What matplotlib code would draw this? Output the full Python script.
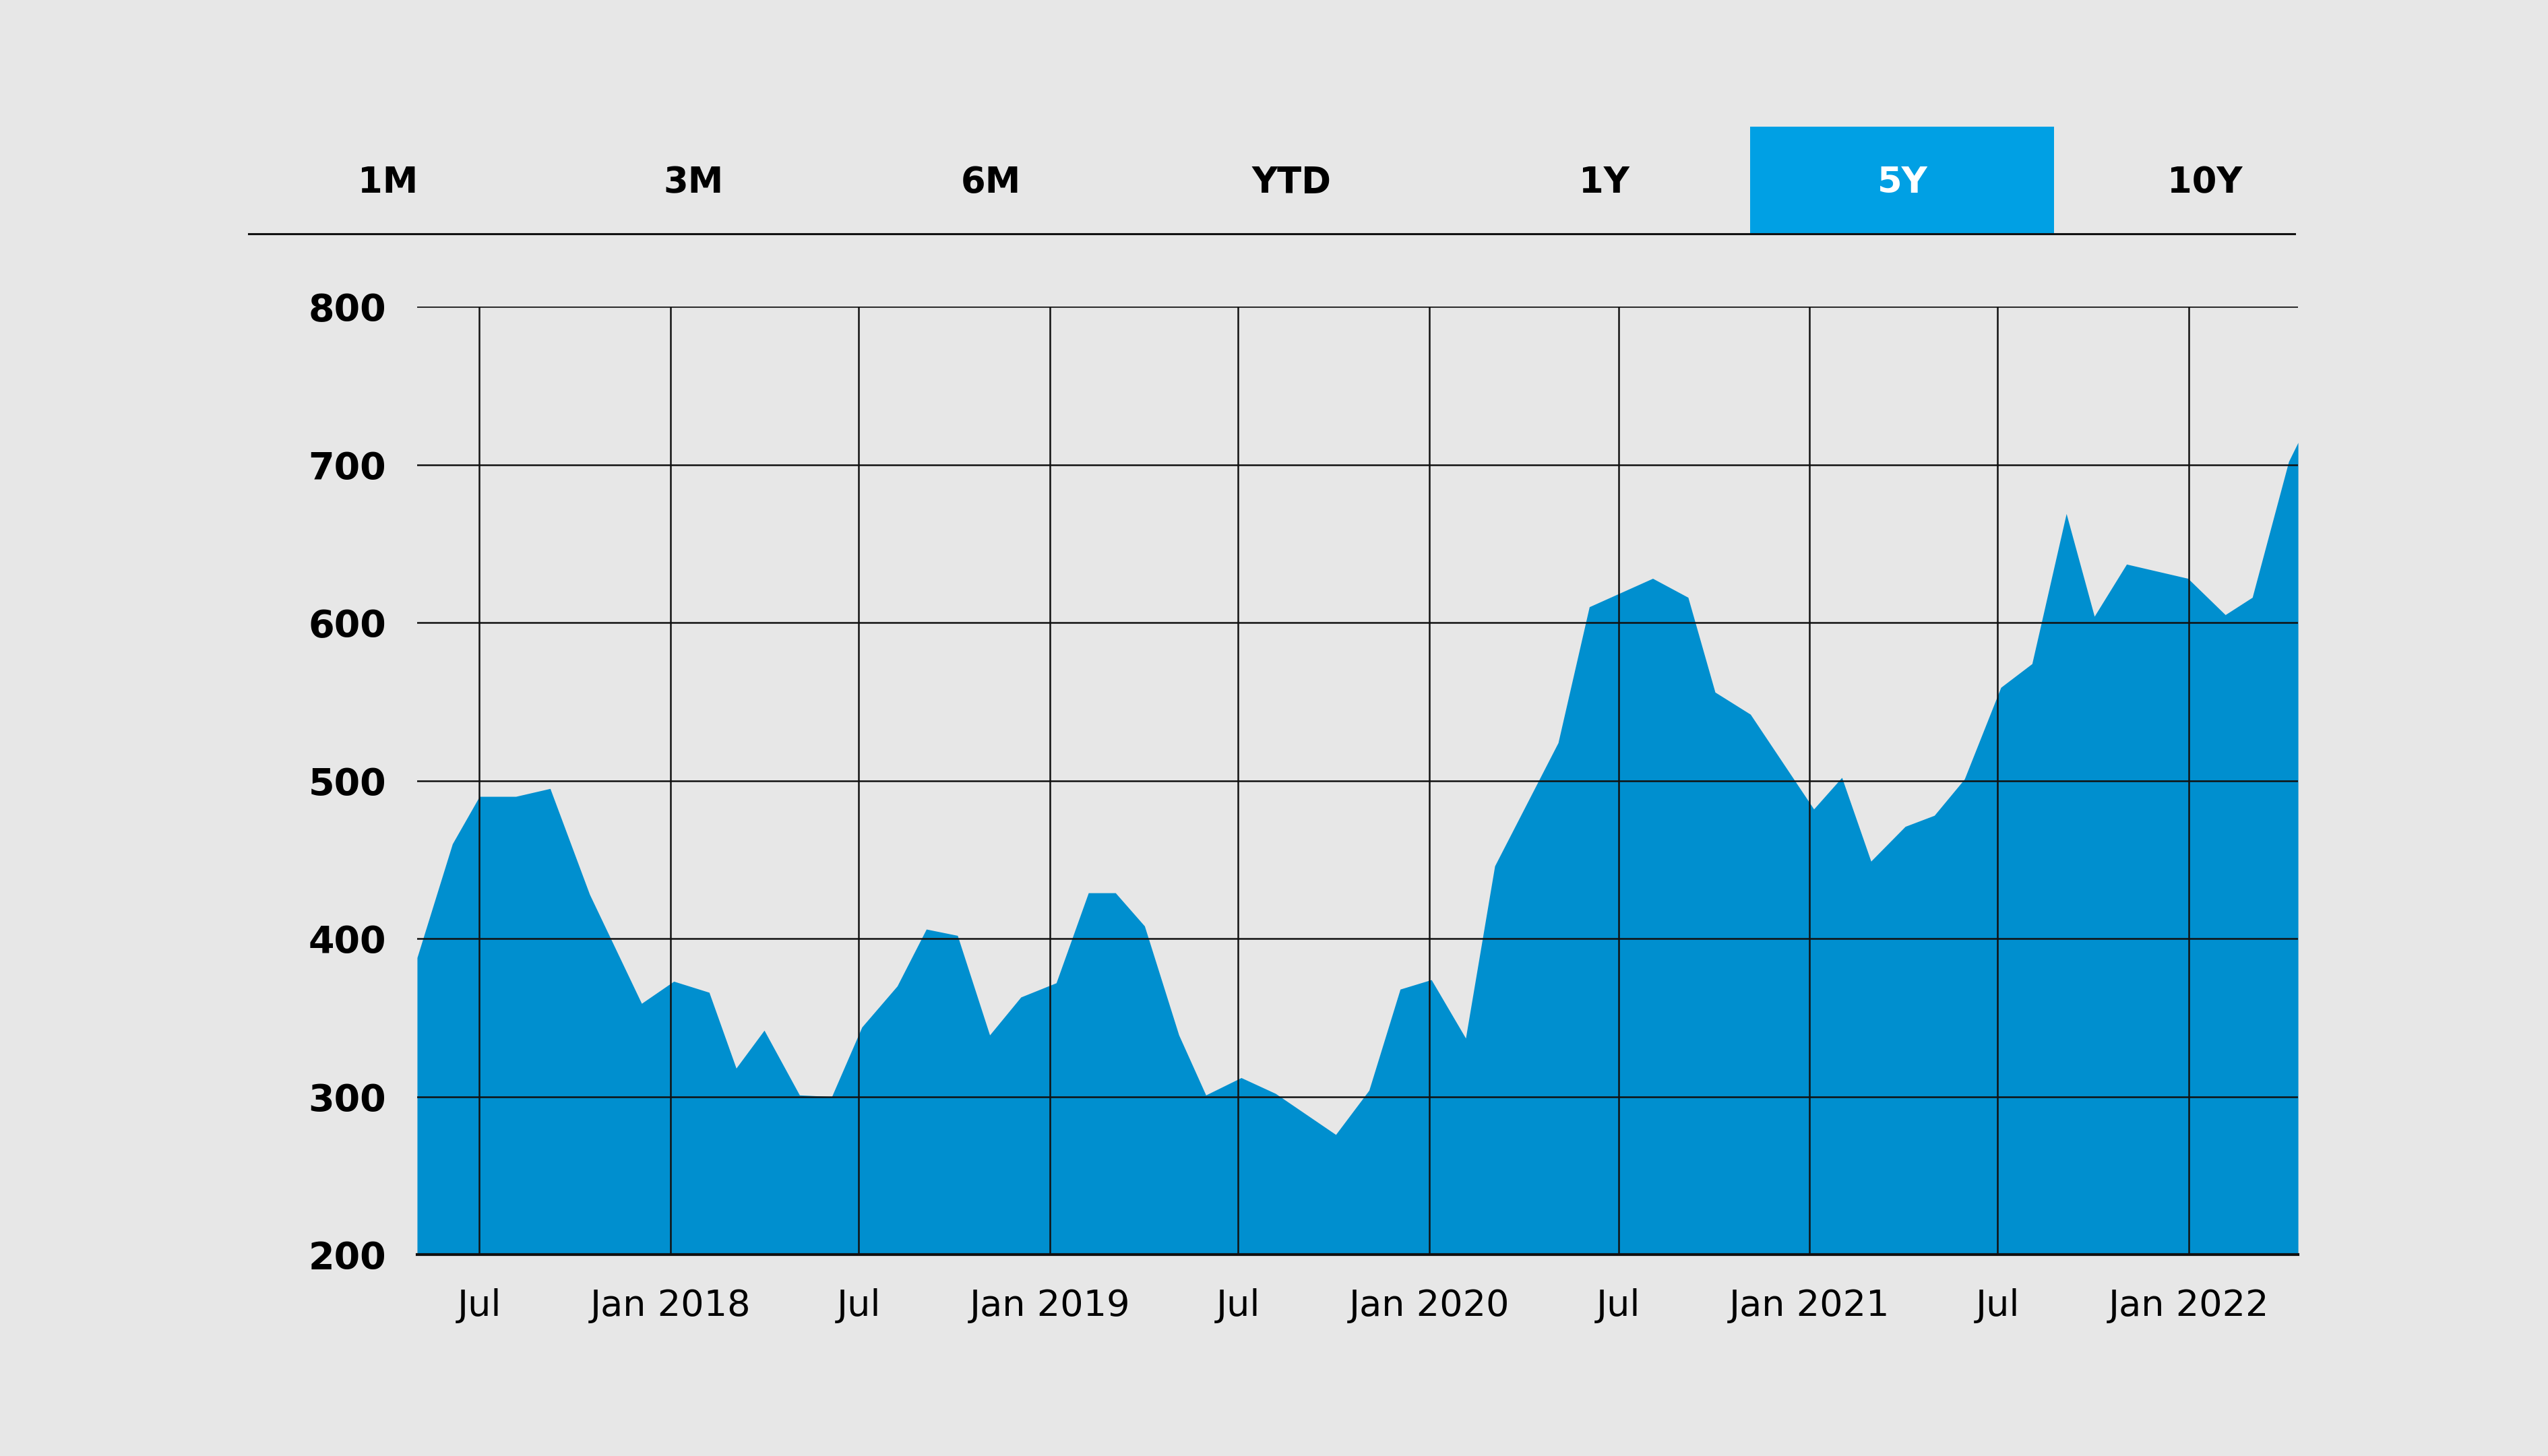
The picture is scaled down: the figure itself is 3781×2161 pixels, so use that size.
import matplotlib
matplotlib.use("Agg")
import matplotlib.pyplot as plt
import matplotlib.dates as mdates
from matplotlib.patches import Rectangle
from matplotlib.lines import Line2D
import pandas as pd

# data
dates = [
    "2017-05-02", "2017-06-05", "2017-07-01", "2017-08-05", "2017-09-07",
    "2017-10-15", "2017-12-04", "2018-01-04", "2018-02-07", "2018-03-05",
    "2018-04-01", "2018-05-05", "2018-06-05", "2018-07-04", "2018-08-07",
    "2018-09-04", "2018-10-04", "2018-11-04", "2018-12-04", "2019-01-07",
    "2019-02-07", "2019-03-05", "2019-04-02", "2019-05-05", "2019-05-31",
    "2019-07-04", "2019-08-06", "2019-10-03", "2019-11-04", "2019-12-04",
    "2020-01-03", "2020-02-05", "2020-03-04", "2020-05-04", "2020-06-03",
    "2020-08-03", "2020-09-06", "2020-10-02", "2020-11-05", "2021-01-05",
    "2021-02-01", "2021-03-01", "2021-04-03", "2021-05-01", "2021-05-30",
    "2021-07-04", "2021-08-03", "2021-09-05", "2021-10-02", "2021-11-02",
    "2021-12-31", "2022-02-05", "2022-03-03", "2022-04-07", "2022-04-16",
]
values = [
    388, 460, 490, 490, 495,
    428, 359, 373, 366, 318,
    342, 301, 300, 344, 370,
    406, 402, 339, 363, 372,
    429, 429, 408, 339, 301,
    312, 302, 276, 304, 368,
    374, 337, 446, 524, 610,
    628, 616, 556, 542, 482,
    502, 449, 471, 478, 501,
    559, 574, 669, 604, 637,
    628, 605, 616, 702, 714,
]
range_buttons = ["1M", "3M", "6M", "YTD", "1Y", "5Y", "10Y"]
active_button = "5Y"
y_ticks = [200, 300, 400, 500, 600, 700, 800]

bg = "#e7e7e7"
area_color = "#008fcf"
active_color = "#00a0e4"

x = pd.to_datetime(dates)

fig = plt.figure(figsize=(37.81, 21.61), dpi=100, facecolor=bg)
ax = fig.add_axes([0.1637, 0.1383, 0.7382, 0.6511])
ax.set_facecolor(bg)

ax.fill_between(x, values, 200, color=area_color, linewidth=0, zorder=1)

ax.set_xlim(x[0], x[-1])
ax.set_ylim(200, 800)
ax.set_yticks(y_ticks)

ax.xaxis.set_major_locator(mdates.MonthLocator(bymonth=[1, 7]))


def fmt_date(v, pos=None):
    d = mdates.num2date(v)
    if d.month == 1:
        return "Jan %d" % d.year
    return "Jul"


ax.xaxis.set_major_formatter(plt.FuncFormatter(fmt_date))

# gridlines sit on top of the area
ax.set_axisbelow(False)
ax.grid(True, color="#111111", linewidth=1.8)

for s in ["top", "left", "right"]:
    ax.spines[s].set_visible(False)
ax.spines["bottom"].set_linewidth(3)
ax.spines["bottom"].set_color("#111111")
ax.spines["bottom"].set_zorder(3)

ax.tick_params(axis="both", length=0)
ax.tick_params(axis="y", pad=33)
ax.tick_params(axis="x", pad=36)
for lab in ax.get_yticklabels():
    lab.set_fontsize(40)
    lab.set_fontweight("bold")
    lab.set_family("DejaVu Sans")
for lab in ax.get_xticklabels():
    lab.set_fontsize(39)
    lab.set_family("DejaVu Sans")

# range selector row
btn_x = [0.1523, 0.2722, 0.3890, 0.5070, 0.6295, 0.7466, 0.8654]
i_act = range_buttons.index(active_button)
fig.patches.append(Rectangle((0.6869, 0.8394), 0.8061 - 0.6869, 0.9130 - 0.8394,
                             transform=fig.transFigure, facecolor=active_color,
                             edgecolor="none", zorder=1))
for i, name in enumerate(range_buttons):
    fig.text(btn_x[i], 0.8745, name, ha="center", va="center",
             fontsize=38, fontweight="bold", family="DejaVu Sans",
             color="white" if i == i_act else "black", zorder=2)
fig.lines.append(Line2D([0.0976, 0.9006], [0.8394, 0.8394], transform=fig.transFigure,
                        color="#111111", linewidth=2.2))

fig.savefig("out.png", dpi=100, facecolor=bg)
